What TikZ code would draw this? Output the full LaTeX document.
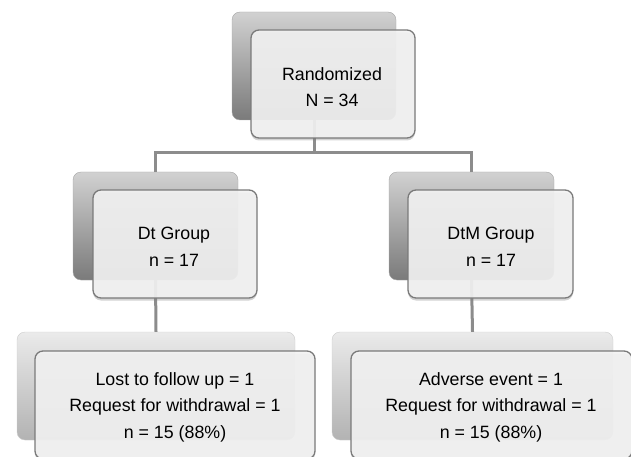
\documentclass[tikz,border=0pt]{standalone}
\usepackage{fontspec}
\setmainfont{Liberation Sans}
\usetikzlibrary{shadows}
\definecolor{linegray}{HTML}{8C8C8C}
\definecolor{edgegray}{HTML}{7A7A7A}
\definecolor{frontfill}{HTML}{F3F3F3}
\tikzset{
  backdark/.style={rounded corners=8pt, draw=black!35, line width=0.4pt,
    top color=black!18, bottom color=black!52, inner sep=0pt},
  backlight/.style={rounded corners=8pt, draw=black!20, line width=0.4pt,
    top color=black!8, bottom color=black!30, inner sep=0pt},
  frontbox/.style={rounded corners=8pt, draw=edgegray, line width=1.3pt,
    fill=frontfill, fill opacity=0.9, text opacity=1, inner sep=0pt,
    align=center, font=\fontsize{17.8}{26.5}\selectfont,
    drop shadow={shadow xshift=0pt, shadow yshift=-2.5pt, opacity=0.35}},
  connector/.style={draw=linegray, line width=3pt},
}
\begin{document}
\begin{tikzpicture}[x=1pt,y=-1pt]
\useasboundingbox (0,0) rectangle (631,457);
% back boxes
\node[backdark, minimum width=164pt, minimum height=108pt] (topB) at (314,66) {};
\node[backdark, minimum width=165pt, minimum height=108pt] (leftB) at (155.5,226) {};
\node[backdark, minimum width=165pt, minimum height=108pt] (rightB) at (471.5,226) {};
\node[backlight, minimum width=278pt, minimum height=108pt] (leftBotB) at (156,386) {};
\node[backlight, minimum width=281pt, minimum height=108pt] (rightBotB) at (472.5,386) {};
% connectors
\coordinate (j) at (314,153);
\draw[connector] (topB.south) -- (j);
\draw[connector] (leftB.north) |- (j) -| (rightB.north);
\draw[connector] (leftB.south) -- (leftBotB.north);
\draw[connector] (rightB.south) -- (rightBotB.north);
% front boxes
\node[frontbox, minimum width=164pt, minimum height=108pt] (topF) at (333,84) {};
\node[frontbox, minimum width=164pt, minimum height=108pt] (leftF) at (175,244) {};
\node[frontbox, minimum width=165pt, minimum height=108pt] (rightF) at (490.5,244) {};
\node[frontbox, minimum width=280pt, minimum height=108pt] (leftBotF) at (175,405) {};
\node[frontbox, minimum width=281pt, minimum height=108pt] (rightBotF) at (491.5,405) {};
% texts
\tikzset{lbl/.style={align=center, font=\fontsize{17.8}{26.5}\selectfont, inner sep=0pt}}
\node[lbl] (topT) at (332,87) {Randomized\\N = 34};
\node[lbl] (leftT) at (174,247) {Dt Group\\n = 17};
\node[lbl] (rightT) at (491,247) {DtM Group\\n = 17};
\node[lbl] (leftBotT) at (175,407) {Lost to follow up = 1\\Request for withdrawal = 1\\n = 15 (88\%)};
\node[lbl] (rightBotT) at (491,407) {Adverse event = 1\\Request for withdrawal = 1\\n = 15 (88\%)};
\end{tikzpicture}
\end{document}
